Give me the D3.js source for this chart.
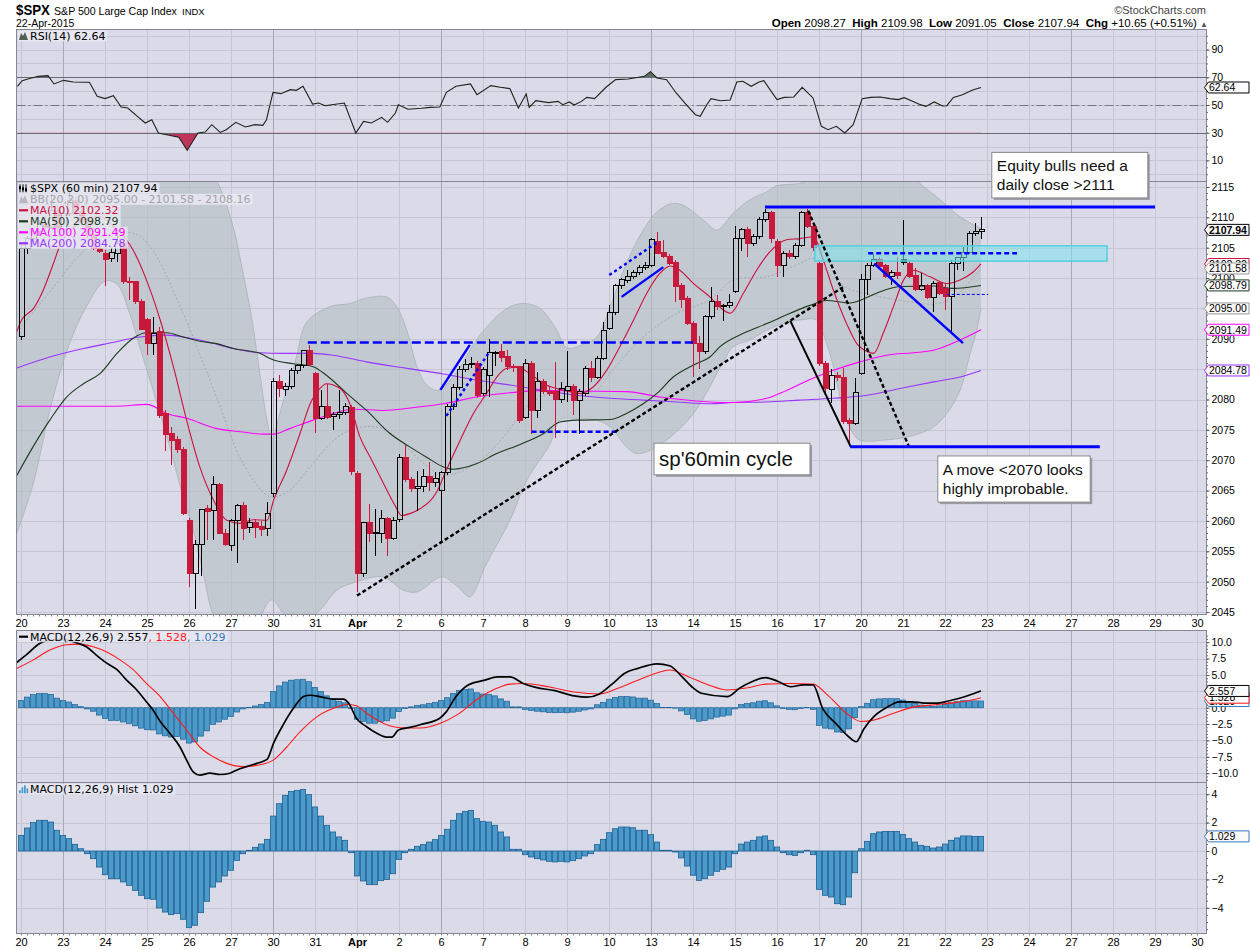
<!DOCTYPE html>
<html>
<head>
<meta charset="utf-8">
<title>$SPX 60 min</title>
<script src="https://cdn.jsdelivr.net/npm/d3@7/dist/d3.min.js"></script>
<style>
  body { margin: 0; background: #ffffff; }
  svg text { font-family: "Liberation Sans", Arial, sans-serif; }
  .leg { font-family: "DejaVu Sans", Verdana, sans-serif; font-size: 11px; }
</style>
</head>
<body>
<svg id="chart" width="1250" height="950"></svg>
<script>
// ---------------- data ----------------
// one label per trading day, 7 hourly bars per day
var dayLabels = ["20","23","24","25","26","27","30","31","Apr","2","6","7","8","9","10","13","14","15","16","17","20","21","22","23","24","27","28","29","30"];
var weekStarts = [1, 6, 10, 15, 20, 25];
var prevClose = 2089.27;

// hourly candles [open, high, low, close]
var ohlc = [
  // Mar 20
  [2090.3,2105.5,2089.8,2104.9],[2104.9,2107.0,2104.0,2106.5],[2106.5,2108.2,2105.8,2107.6],[2107.6,2109.6,2107.0,2109.0],[2109.0,2110.2,2107.9,2108.4],[2108.4,2113.9,2108.1,2111.2],[2111.2,2111.8,2107.6,2108.1],
  // Mar 23
  [2108.0,2112.0,2107.5,2110.6],[2110.6,2114.9,2110.2,2112.8],[2112.8,2113.4,2110.5,2111.0],[2111.0,2111.6,2108.8,2109.4],[2109.4,2110.0,2106.6,2107.1],[2107.1,2107.8,2104.6,2104.8],[2104.8,2105.6,2104.2,2104.4],
  // Mar 24
  [2104.1,2104.6,2098.7,2103.1],[2103.2,2104.9,2102.7,2104.2],[2104.1,2107.6,2102.7,2105.7],[2105.7,2106.0,2099.0,2099.4],[2099.5,2100.2,2096.4,2099.2],[2099.4,2099.6,2095.8,2096.1],[2096.2,2096.5,2091.4,2091.6],
  // Mar 25
  [2093.2,2093.5,2087.3,2089.3],[2089.3,2093.6,2087.3,2090.9],[2091.2,2092.0,2077.0,2077.4],[2077.7,2078.2,2071.5,2074.3],[2074.4,2075.5,2069.2,2073.3],[2073.4,2074.0,2071.2,2071.8],[2071.8,2072.2,2061.0,2061.2],
  // Mar 26
  [2060.1,2060.5,2049.1,2051.4],[2051.4,2056.9,2045.5,2056.1],[2056.1,2062.0,2050.9,2061.9],[2062.0,2062.6,2056.8,2061.6],[2061.7,2067.4,2056.8,2066.0],[2066.0,2066.3,2057.9,2058.0],[2058.0,2058.6,2055.8,2056.1],
  // Mar 27
  [2055.9,2060.4,2055.0,2060.0],[2060.0,2062.8,2053.0,2062.6],[2062.6,2063.1,2056.8,2058.7],[2058.9,2060.5,2058.0,2059.7],[2059.8,2060.3,2057.2,2059.0],[2059.1,2060.0,2057.5,2058.6],[2058.7,2063.1,2057.6,2061.2],
  // Mar 30
  [2064.5,2083.5,2064.0,2082.9],[2082.9,2084.0,2080.4,2081.8],[2081.6,2082.8,2080.6,2082.1],[2082.1,2085.2,2081.8,2084.8],[2084.8,2085.9,2084.2,2085.6],[2085.6,2088.2,2085.2,2088.0],[2088.0,2088.9,2085.6,2085.8],
  // Mar 31
  [2084.3,2084.6,2074.5,2076.9],[2076.9,2081.6,2076.7,2078.9],[2078.9,2082.6,2076.8,2077.0],[2077.2,2078.0,2075.0,2077.6],[2077.6,2081.5,2076.8,2077.9],[2077.9,2079.4,2077.4,2078.8],[2078.7,2079.1,2067.6,2068.1],
  // Apr 1
  [2067.8,2068.2,2048.3,2051.3],[2051.3,2059.9,2050.7,2059.8],[2059.8,2062.8,2056.6,2057.9],[2057.9,2061.9,2054.3,2058.1],[2057.9,2061.8,2056.3,2060.4],[2060.4,2060.7,2054.3,2057.1],[2057.1,2060.6,2056.9,2060.1],
  // Apr 2
  [2060.2,2071.0,2059.8,2070.5],[2070.5,2072.5,2066.4,2066.8],[2066.8,2067.2,2064.8,2065.3],[2065.3,2068.2,2061.7,2065.6],[2065.6,2068.5,2064.8,2067.3],[2067.3,2069.7,2064.9,2066.3],[2066.4,2068.0,2065.6,2067.0],
  // Apr 6
  [2065.0,2068.2,2056.5,2067.9],[2067.9,2079.2,2067.5,2078.8],[2078.8,2082.5,2078.2,2082.0],[2082.0,2085.5,2081.5,2085.0],[2085.0,2086.7,2084.6,2085.7],[2085.7,2087.0,2085.2,2086.0],[2085.9,2086.3,2080.3,2080.7],
  // Apr 7
  [2081.0,2085.4,2080.5,2084.9],[2084.0,2089.9,2080.4,2087.7],[2087.7,2088.0,2085.6,2087.8],[2087.9,2089.2,2086.2,2087.0],[2087.1,2088.1,2084.9,2085.4],[2085.4,2085.8,2084.6,2085.2],[2085.4,2085.6,2076.1,2076.5],
  // Apr 8
  [2077.1,2086.6,2076.8,2086.0],[2086.0,2086.4,2074.4,2078.2],[2078.2,2084.5,2076.9,2082.9],[2082.9,2083.3,2080.9,2081.3],[2081.3,2082.1,2080.6,2081.0],[2081.4,2086.2,2073.6,2080.0],[2080.0,2082.9,2079.5,2081.8],
  // Apr 9
  [2081.5,2088.0,2079.6,2082.1],[2082.1,2082.5,2077.5,2079.9],[2079.9,2081.8,2074.4,2081.4],[2081.0,2085.6,2080.5,2085.1],[2085.1,2086.3,2082.9,2083.7],[2083.7,2087.2,2083.3,2086.8],[2086.8,2092.8,2086.5,2091.4],
  // Apr 10
  [2091.7,2095.5,2091.4,2094.4],[2094.4,2099.1,2094.0,2098.8],[2098.8,2100.0,2098.2,2099.7],[2099.6,2101.4,2099.2,2100.2],[2100.2,2101.4,2099.8,2100.9],[2100.9,2102.2,2100.5,2101.8],[2101.8,2102.6,2101.3,2102.1],
  // Apr 13
  [2102.1,2106.6,2101.8,2106.3],[2106.1,2107.6,2103.9,2104.1],[2104.2,2106.3,2103.3,2103.5],[2103.6,2104.0,2102.2,2102.4],[2102.5,2102.9,2096.1,2098.6],[2098.7,2099.2,2095.0,2096.5],[2096.6,2097.0,2092.3,2092.5],
  // Apr 14
  [2092.5,2093.0,2083.7,2089.2],[2089.2,2090.4,2085.0,2087.9],[2087.9,2093.9,2087.5,2093.7],[2093.7,2098.6,2093.3,2096.1],[2096.1,2097.2,2094.8,2095.3],[2095.3,2095.8,2093.0,2095.5],[2095.5,2097.4,2095.0,2095.9],
  // Apr 15
  [2097.8,2108.5,2097.6,2106.5],[2106.5,2108.3,2104.5,2108.0],[2108.0,2108.4,2103.4,2105.7],[2105.7,2107.2,2105.3,2106.8],[2106.8,2110.0,2106.5,2109.7],[2109.7,2111.3,2109.3,2110.8],[2110.8,2111.1,2105.8,2106.5],
  // Apr 16
  [2106.0,2106.4,2100.2,2102.0],[2102.0,2104.5,2100.1,2104.1],[2104.1,2104.6,2103.2,2103.6],[2103.6,2105.8,2103.2,2105.4],[2105.4,2111.1,2105.1,2110.8],[2110.8,2111.3,2108.2,2108.5],[2108.5,2108.8,2104.4,2105.0],
  // Apr 17
  [2102.4,2102.6,2085.6,2086.0],[2086.0,2086.4,2081.0,2081.8],[2081.7,2085.1,2079.4,2084.0],[2084.0,2084.6,2083.0,2083.6],[2083.6,2085.2,2076.0,2076.3],[2076.6,2077.0,2072.4,2076.0],[2076.0,2083.5,2075.8,2081.2],
  // Apr 20
  [2084.3,2100.7,2084.1,2099.8],[2099.8,2102.5,2097.2,2102.1],[2102.1,2103.9,2101.8,2103.0],[2103.0,2103.4,2101.5,2101.9],[2102.0,2102.3,2100.0,2100.3],[2100.3,2101.3,2098.8,2101.0],[2101.0,2103.4,2099.8,2100.4],
  // Apr 21
  [2103.0,2109.6,2102.2,2102.5],[2102.4,2103.0,2100.0,2100.2],[2100.5,2101.6,2097.8,2098.1],[2098.1,2100.9,2097.8,2098.8],[2098.7,2099.0,2096.5,2096.8],[2096.8,2099.5,2094.4,2099.1],[2099.3,2099.6,2097.2,2097.5],
  // Apr 22
  [2098.3,2099.2,2094.8,2096.9],[2097.0,2102.9,2091.1,2102.4],[2102.4,2103.5,2101.3,2103.4],[2103.4,2105.2,2101.1,2104.2],[2104.2,2107.8,2103.9,2107.4],[2107.4,2109.0,2107.0,2107.6],[2107.6,2110.0,2106.5,2107.94]
];

// overlays as [bar position, value]
var ma10 = [[-0.7,2091.2],[0.1,2093.1],[2.1,2095.0],[3.7,2098.0],[5.4,2102.4],[6.5,2105.4],[9,2108.5],[11.5,2110],[13.2,2110.1],[15.4,2108.5],[18.7,2104.6],[20.9,2099.7],[23.2,2093.1],[25.4,2085.4],[27.6,2076.6],[29.8,2068.9],[32.1,2063.4],[34.3,2060.1],[36.5,2059.6],[38.7,2060.2],[41,2060.1],[42.1,2063.4],[44.3,2068.4],[46.5,2074.4],[48.2,2079.3],[49.8,2081.8],[50.9,2082.6],[53.2,2081.8],[54.8,2079.3],[56.5,2073.8],[58.2,2070.5],[60.4,2066.2],[62.3,2062.6],[63.4,2060.9],[64.8,2061.2],[66.5,2062.0],[69.3,2064.8],[70.9,2068.4],[73.2,2073.3],[75.4,2077.7],[77.6,2081],[79.3,2083.7],[80.9,2085.1],[82.6,2085.3],[84.8,2084.3],[87.1,2082.6],[89.3,2081.8],[91.5,2081.3],[93.2,2081],[95.4,2082.1],[97.6,2084.8],[99.8,2088.7],[102.1,2093.1],[104.3,2097.5],[106.5,2100.8],[108.2,2102],[109.8,2101.3],[112.1,2099.1],[114.8,2096.9],[116.5,2095.2],[118.2,2094.2],[120.4,2097.5],[122.6,2101.3],[124.8,2104.3],[127.6,2106.3],[129.8,2106.5],[132.1,2106.8],[133.7,2103],[135.4,2098],[137.6,2092.5],[139.3,2089.2],[141,2087.9],[142.1,2087.6],[143.7,2090.9],[145.4,2095.3],[147.1,2099.7],[148.7,2101.3],[151.5,2100.2],[154.3,2099.1],[156.5,2099.7],[158.7,2101],[160,2102.32]];
var ma50 = [[-0.7,2067.5],[2,2072.2],[4.8,2076.6],[7.6,2080.4],[10.4,2082.6],[13.2,2084.3],[16,2087.6],[18.7,2090.1],[20.9,2091],[24.3,2091],[27,2090.3],[29.8,2089.6],[32.6,2089.2],[35.4,2088.4],[39.8,2087.6],[42.1,2086.5],[45.4,2085.9],[48.7,2085.4],[50.9,2084],[54.3,2081],[57.6,2078.2],[61.5,2074.4],[64.8,2072.2],[67.6,2070.5],[70.4,2068.9],[72,2068.5],[75.9,2069.4],[79.3,2071.1],[83.2,2072.6],[87.1,2074.4],[89.8,2076.3],[92.6,2076.6],[98.2,2076.7],[100.9,2077.7],[103.7,2079.3],[106,2081],[108.7,2083.7],[112.1,2085.7],[114.8,2087],[116.5,2088.7],[120.4,2090.9],[124.3,2092.5],[128.2,2094.2],[131.5,2095.5],[134.3,2096.3],[138.2,2095.9],[139.8,2096.3],[142.6,2097.5],[146.5,2098.6],[152.1,2098.7],[155.4,2098.3],[160,2098.79]];
var ma100 = [[-0.7,2078.9],[16,2078.9],[21,2079.2],[24.3,2077.7],[27.6,2076.9],[32.6,2075.2],[36.5,2074.7],[40.4,2074.3],[42.1,2074.3],[44.8,2075.2],[48.7,2076.6],[52,2077.7],[55.4,2078.4],[60.4,2078.2],[66.5,2078.8],[70.4,2079.3],[75.9,2080.4],[81.5,2081.1],[87.1,2081.5],[92.6,2081.4],[100.9,2081.3],[106.5,2080.4],[114.8,2079.6],[118.7,2079.5],[124.3,2080.2],[127.6,2081.5],[131.5,2083.3],[135.4,2084.8],[139.8,2086.2],[144.3,2087.3],[148.7,2087.7],[152.1,2088.1],[156.5,2089.8],[160,2091.49]];
var ma200 = [[-0.7,2085.2],[4.8,2087],[10.4,2088.4],[14.8,2089.3],[19.8,2090.3],[24.3,2090.6],[27.6,2090.2],[31,2089.5],[35.4,2088.4],[39.8,2087.7],[43.7,2087.6],[48.7,2087.6],[52,2087.3],[57.6,2086.2],[63.2,2085.3],[66.5,2084.8],[70.4,2084.2],[75.9,2083.2],[81.5,2082.4],[87.1,2081.5],[92.6,2080.7],[98.2,2080.2],[103.7,2079.9],[109.3,2079.6],[114.8,2079.3],[118.7,2079.5],[124.3,2079.6],[129.8,2079.9],[135.4,2080.2],[141,2080.7],[146.5,2081.8],[152.1,2082.9],[156.5,2083.7],[160,2084.78]];
var bbUpper = [[-0.7,2124],[5,2120],[10,2117.5],[15,2116.5],[20,2118],[25,2121],[30,2119],[32.6,2116],[35.2,2109],[36.8,2101.9],[38.5,2093.1],[39.8,2084.3],[41,2076.6],[41.8,2073.5],[43.5,2079],[45.9,2087],[47.6,2092.7],[51.5,2095.3],[54.8,2095.8],[57.1,2096.6],[60.9,2096.9],[62.6,2095.3],[64.3,2091.4],[66,2085.4],[67.6,2082.4],[69.3,2081.5],[70.4,2082.0],[73.2,2085.4],[75.9,2089.8],[78.7,2093.1],[81.5,2095.3],[84,2095.8],[86.5,2095.0],[88.2,2093.1],[89.3,2091.4],[91,2088.5],[94,2089.2],[96,2090.3],[98.2,2095.3],[100.9,2102.4],[103.7,2107.9],[106,2110.9],[108.2,2112.2],[109.8,2112.2],[112.1,2110.9],[114,2109.3],[116,2107.9],[118.7,2110.7],[121.5,2112.9],[124.3,2114.2],[126,2115.2],[129.8,2115.6],[132,2116.5],[135,2120],[140,2124],[145,2120],[149.8,2115.6],[153.2,2112.9],[156.5,2110.1],[160,2108.16]];
var bbLower = [[-0.7,2058],[2,2066],[5,2079],[8,2089],[11,2095.5],[14,2099.5],[16,2099],[18,2094.5],[20,2088],[21.5,2083.2],[24.8,2072.2],[27,2064],[28.7,2058.5],[30.4,2051.3],[32,2044.7],[34,2042],[38,2041.5],[41.8,2047],[44,2044.5],[47,2043.5],[50,2045.5],[52.6,2048.6],[56,2050],[60.3,2050.8],[63.7,2048.6],[66,2048.3],[69.3,2050.5],[70.4,2050.8],[73,2049],[74.8,2047.5],[77.6,2053],[81.5,2060.1],[84.3,2066.7],[88.2,2072.7],[89.8,2076.6],[92.6,2076.9],[95.9,2076.6],[98.2,2075.5],[100.9,2072.2],[102.6,2071.1],[104.8,2071.6],[108.2,2073.8],[112.1,2077.7],[114.8,2082.1],[117.2,2086.5],[118.7,2088.7],[121.5,2089.8],[124.3,2091.4],[127,2092.5],[129.8,2093.1],[132.6,2093.1],[133.7,2090.9],[135.4,2085.4],[136.5,2080.4],[137.6,2076.6],[138.7,2074.4],[139.8,2073.3],[143.7,2073.3],[147.6,2073.8],[149.8,2074.4],[152.1,2075.5],[154.3,2077.7],[156.5,2081.5],[158.2,2087.6],[159.3,2091.4],[160,2095.0]];
var bbMid = [[-0.7,2091],[5,2098],[10,2104],[14,2107],[18.7,2107.4],[21.5,2105.2],[27,2094.2],[32.6,2080.4],[37,2069.5],[41.5,2064],[44.8,2065.1],[48.2,2068.9],[51.5,2072.7],[53.7,2074.4],[57,2075.5],[60.4,2075.2],[63.7,2072.7],[67.1,2069.5],[70.4,2067.5],[75.9,2069.5],[80.4,2073.8],[84.3,2078.8],[88.2,2081],[92.6,2081],[95.9,2081.5],[98.2,2084.3],[103.7,2090.3],[109.3,2094.2],[114.8,2096.4],[118.7,2099.7],[124.3,2100.2],[129.8,2102.4],[132,2103.2],[135.4,2100],[138,2098.2],[141,2097.4],[144.8,2096.6],[148.7,2096.0],[152,2095.7],[155.4,2096.8],[160,2101.58]];

var rsi = [[-0.6,63.5],[0.2,67.6],[1.3,69],[2.9,70.7],[4.5,71.2],[5.5,65.2],[7.1,67.8],[8.7,66.6],[10.3,66.4],[11.4,66.4],[12.7,56.3],[14,54.6],[15.4,56.7],[16.7,48.6],[17.8,47.8],[19.4,41.8],[20.7,37],[21.8,39.4],[22.9,29.8],[24.7,28.1],[26.3,26.7],[27.7,17.3],[29.5,29.8],[30.7,30.5],[31.8,35.8],[33.2,30.2],[34.2,32.2],[35.8,37.5],[37.4,34.1],[39,35.8],[40.3,35.3],[40.9,39.2],[42,59.1],[43.3,58.2],[44.9,61.1],[45.9,60.6],[47,63.5],[48.6,50.7],[49.6,51.4],[50.7,49.5],[51.8,50.2],[53.9,51.4],[55.8,29.8],[57.1,38.2],[58.4,37],[60.1,41.1],[61.1,37.5],[62.4,44.2],[62.9,50.2],[64.5,46.9],[66.7,47.6],[68.2,48.3],[69.8,48.6],[70.9,59.1],[72.5,63.5],[74.9,65.2],[76,57.5],[78.3,64],[79.9,62.8],[81.5,61.8],[82.9,47.8],[84.2,57.9],[84.7,48.3],[85.8,53.1],[87.9,51.7],[89.5,52.6],[90.3,50.2],[91.4,52.2],[92.2,50],[93.4,52.6],[94.3,55.5],[95.6,54.6],[97.5,62.8],[99.1,68.3],[101.2,68.8],[103.9,70.7],[104.9,74.1],[106,69.5],[107.6,68.3],[109.2,58.7],[110.8,50.7],[112.4,43],[113.2,41.8],[114.3,50.2],[115,54.6],[116.6,53.1],[118.2,53.6],[119.3,66.6],[120.3,67.1],[121.7,63.5],[123,66.6],[123.8,67.6],[126,53.9],[127.2,55.5],[128.8,55.8],[130.2,62.8],[132,55.1],[133.4,34.6],[134.5,32.2],[135.9,34.6],[137.3,29.8],[138.7,35.8],[140.2,54.6],[141.6,55.5],[143.2,55.8],[144.8,54.6],[146.2,53.9],[147.2,55.3],[148.5,52.9],[149.6,50.7],[150.8,49],[152.2,52.2],[153.6,49.3],[154.3,49.5],[155.4,55.5],[156.8,57.2],[158.6,60.8],[160,62.64]];

var macdLine = [[-0.7,6.9],[1.3,8.4],[2.9,9.7],[5,10.3],[7,10.4],[9.3,9.9],[10.9,9.3],[12.6,8.0],[14.3,6.8],[16,5.8],[17.6,4.2],[19.3,2.7],[20.9,0.9],[22,-0.35],[23.2,-2.1],[24.8,-3.9],[26.5,-6.0],[27.6,-8.0],[28.7,-9.8],[29.8,-10.3],[31.5,-10.0],[33.2,-10.2],[34.8,-10.0],[36,-9.5],[37.6,-9.0],[39.3,-8.5],[41,-7.9],[42.1,-5.4],[43.7,-2.6],[45.4,-0.1],[47.1,1.7],[48.2,1.9],[49.8,1.7],[52,1.3],[53.7,1.3],[54.6,0.7],[55.9,-1.6],[57.6,-2.9],[59.3,-3.9],[60.9,-4.5],[61.8,-4.5],[62.9,-3.4],[64.8,-3.0],[66.5,-2.6],[69.8,-1.6],[70.9,-0.6],[72.5,1.7],[74.6,3.5],[77.3,4.2],[79.4,4.7],[81.5,4.7],[83.7,3.7],[85.8,3.1],[89,2.6],[92.2,1.8],[94.3,1.6],[96.4,2.1],[98.5,3.6],[100.7,5.3],[102.8,6.0],[106,6.7],[108.1,6.4],[110.2,4.7],[111.8,3.2],[113.4,2.2],[117.7,1.7],[119.8,3.0],[121.9,4.0],[124.1,4.6],[126.2,4.0],[128.3,3.2],[130.4,3.5],[132,3.5],[133.6,-0.1],[135.8,-2.4],[137.9,-4.4],[139.2,-5.2],[140.5,-3.2],[142.1,-1.4],[144.3,0.05],[146.4,0.9],[148.5,0.9],[150.6,0.7],[152.8,0.7],[154.9,1.1],[157,1.6],[158.6,2.1],[160,2.557]];
var macdSignal = [[-0.7,6.0],[2.05,7.3],[4.8,8.8],[7.6,9.6],[9.8,9.7],[12.05,9.3],[14.3,8.5],[16.5,7.3],[18.7,5.8],[20.9,3.7],[23.2,1.7],[25.4,-0.85],[27.6,-3.4],[29.8,-6.0],[32.05,-7.5],[34.3,-8.5],[37.05,-9.0],[40.4,-8.6],[42.05,-8.0],[44.3,-6.0],[46.5,-3.7],[49.3,-1.4],[52.05,-0.1],[54.3,0.5],[55.9,0.3],[57.6,-0.85],[59.8,-2.1],[62.05,-2.9],[64.3,-3.1],[66.5,-3.1],[69.8,-2.4],[73,-0.9],[76.2,1.4],[79.4,3.0],[81.5,3.6],[83.7,3.7],[87.9,3.2],[92.2,2.4],[96.4,2.1],[99.6,3.0],[102.8,4.2],[106,5.3],[108.1,5.75],[111.3,4.7],[114.5,3.5],[117.7,2.7],[120.9,3.0],[124.1,3.6],[128.3,3.7],[132,3.6],[134.7,1.7],[137.9,-1.1],[140,-2.1],[142.1,-1.9],[145.3,-0.9],[148.5,0.05],[151.7,0.4],[154.9,0.7],[158.1,1.1],[160,1.528]];
// histogram, one value per bar
var macdHist = [
  1.10,1.62,2.00,2.16,2.16,2.04,1.46,
  1.10,0.87,0.47,0.16,-0.19,-0.54,-1.13,
  -1.67,-1.95,-1.95,-2.18,-2.42,-2.77,-3.12,
  -3.36,-3.40,-4.01,-4.30,-4.48,-4.41,-4.81,
  -5.40,-5.23,-4.34,-3.54,-2.54,-2.18,-1.76,
  -1.36,-0.66,-0.19,0.05,0.26,0.49,0.82,
  2.46,3.33,3.92,4.20,4.27,4.34,3.97,
  3.10,2.46,1.81,1.34,0.99,0.75,-0.12,
  -1.76,-2.11,-2.37,-2.37,-2.09,-2.00,-1.60,
  -0.59,-0.12,0.12,0.33,0.45,0.63,0.80,
  1.10,1.53,2.16,2.63,2.79,2.86,2.28,
  2.09,2.04,1.81,1.34,0.99,0.12,0.12,
  -0.26,-0.42,-0.54,-0.63,-0.73,-0.77,-0.73,
  -0.77,-0.68,-0.54,-0.35,-0.19,0.45,0.82,
  1.29,1.57,1.69,1.69,1.64,1.46,1.46,
  1.15,0.63,0.05,0.05,-0.07,-0.49,-1.06,
  -1.71,-2.07,-1.95,-1.71,-1.43,-1.29,-1.13,
  -0.19,0.49,0.63,0.75,0.99,1.06,0.75,
  0.28,-0.12,-0.26,-0.31,-0.12,0.05,-0.26,
  -2.70,-3.12,-3.24,-3.71,-3.78,-3.24,-1.53,
  0.16,0.68,1.22,1.34,1.38,1.38,1.38,
  1.17,0.87,0.63,0.40,0.33,0.21,0.28,
  0.49,0.75,0.92,1.06,1.06,1.03,1.029
];

// hand-drawn annotations, in [bar, price] terms
var drawnLines = [
  {kind:'blueDash',  pts:[[47.8,2089.4],[112,2089.4]]},
  {kind:'blue',      pts:[[69.9,2081.6],[74.8,2089.0]]},
  {kind:'blueDot',   pts:[[70.9,2077.3],[77.9,2087.6]]},
  {kind:'blueShort', pts:[[85.1,2074.7],[99.6,2074.7]]},
  {kind:'blueDot',   pts:[[98.05,2100.5],[106.2,2106]]},
  {kind:'blue',      pts:[[100.1,2096.9],[107.05,2101.8]]},
  {kind:'blackDash', pts:[[56,2047.7],[137,2098.5]]},
  {kind:'blackDash', pts:[[131.2,2111.1],[148,2072.2]]},
  {kind:'black',     pts:[[128.2,2093],[138.3,2072.2]]},
  {kind:'blueThick', pts:[[124,2111.7],[189,2111.7]]},
  {kind:'blueThick', pts:[[138.2,2072.2],[179.8,2072.2]]},
  {kind:'blueShort', pts:[[141.2,2104.1],[166,2104.1]]},
  {kind:'blue',      pts:[[142.2,2102.4],[157,2089.3]]},
  {kind:'blueThin',  pts:[[154.3,2097.3],[161.2,2097.3]]}
];
var zone = {b0:132.3, b1:181, p0:2105.3, p1:2102.8};
var notes = [
  {b0:161.8, b1:187.8, p0:2120.7, p1:2113.2, size:15.5, lines:["Equity bulls need a","daily close >2111"]},
  {b0:105.5, b1:131.5, p0:2072.8, p1:2067.6, size:20.5, lines:["sp'60min cycle"]},
  {b0:152.8, b1:178.2, p0:2070.7, p1:2063.1, size:15.5, lines:["A move <2070 looks","highly improbable."]}
];

// ---------------- chart ----------------
var svg = d3.select('#chart');
var plotLeft = 16.5, plotRight = 1206.5;
var pRsi = {top: 29.5, bottom: 181.5, id: 'cRsi'};
var pMain = {top: 181.5, bottom: 614.5, id: 'cMain'};
var pMacd = {top: 630.5, bottom: 782.5, id: 'cMacd'};
var pHist = {top: 782.5, bottom: 933.5, id: 'cHist'};

var x = d3.scaleLinear().domain([-0.75, 197.583]).range([plotLeft, plotRight]);
var yMain = d3.scaleLinear().domain([2045, 2115]).range([612, 187]);
var yRsi = d3.scaleLinear().domain([10, 90]).range([160.4, 49.6]);
var yMacd = d3.scaleLinear().domain([-10, 10]).range([773.2, 642.2]);
var yHist = d3.scaleLinear().domain([-4, 4]).range([907.8, 794.2]);

var bgCol = '#dadae8', gridCol = '#c5c5d6', weekCol = '#a8a8bb', frameCol = '#868696';
var redCol = '#c8183c', histFill = '#4a9bcb', histStroke = '#1f6294';
var dayTicks = dayLabels.map(function (d, i) { return 7 * i; });
var sharp = function (v) { return Math.round(v) + 0.5; };

var defs = svg.append('defs');

function drawPanel(p, yScale, hVals) {
  svg.append('rect').attr('x', plotLeft).attr('y', p.top)
    .attr('width', plotRight - plotLeft).attr('height', p.bottom - p.top).attr('fill', bgCol);
  defs.append('clipPath').attr('id', p.id).append('rect')
    .attr('x', plotLeft).attr('y', p.top).attr('width', plotRight - plotLeft).attr('height', p.bottom - p.top);
  var g = svg.append('g');
  g.append('g').selectAll('line').data(hVals).join('line')
    .attr('x1', plotLeft).attr('x2', plotRight)
    .attr('y1', function (d) { return sharp(yScale(d)); }).attr('y2', function (d) { return sharp(yScale(d)); })
    .attr('stroke', gridCol);
  g.append('g').selectAll('line').data(dayTicks).join('line')
    .attr('x1', function (d) { return sharp(x(d)); }).attr('x2', function (d) { return sharp(x(d)); })
    .attr('y1', p.top).attr('y2', p.bottom)
    .attr('stroke', function (d, i) { return weekStarts.indexOf(i) >= 0 ? weekCol : gridCol; });
}
function frame(p) {
  svg.append('rect').attr('x', plotLeft).attr('y', p.top)
    .attr('width', plotRight - plotLeft).attr('height', p.bottom - p.top)
    .attr('fill', 'none').attr('stroke', frameCol);
}

drawPanel(pRsi, yRsi, d3.range(0, 101, 10));
drawPanel(pMain, yMain, d3.range(2045, 2116, 5));
drawPanel(pMacd, yMacd, d3.range(-10, 10.1, 2.5));
drawPanel(pHist, yHist, [-4, -2, 0, 2, 4]);

// ---- RSI ----
var gR = svg.append('g').attr('clip-path', 'url(#cRsi)');
defs.append('clipPath').attr('id', 'rsiHi').append('rect')
  .attr('x', plotLeft).attr('y', pRsi.top).attr('width', plotRight - plotLeft).attr('height', yRsi(70) - pRsi.top);
defs.append('clipPath').attr('id', 'rsiLo').append('rect')
  .attr('x', plotLeft).attr('y', yRsi(30)).attr('width', plotRight - plotLeft).attr('height', pRsi.bottom - yRsi(30));
var rsiX = function (d) { return x(d[0]); }, rsiY = function (d) { return yRsi(d[1]); };
gR.append('path').datum(rsi).attr('clip-path', 'url(#rsiHi)').attr('fill', '#5f6e62')
  .attr('d', d3.area().x(rsiX).y0(yRsi(70)).y1(rsiY));
gR.append('path').datum(rsi).attr('clip-path', 'url(#rsiLo)').attr('fill', '#bd3559')
  .attr('d', d3.area().x(rsiX).y0(yRsi(30)).y1(rsiY));
[70, 30].forEach(function (v) {
  gR.append('line').attr('x1', plotLeft).attr('x2', plotRight)
    .attr('y1', sharp(yRsi(v))).attr('y2', sharp(yRsi(v))).attr('stroke', '#6a6a72');
});
gR.append('line').attr('x1', plotLeft).attr('x2', plotRight)
  .attr('y1', sharp(yRsi(50))).attr('y2', sharp(yRsi(50)))
  .attr('stroke', '#77777f').attr('stroke-dasharray', '9,3,2,3');
gR.append('path').datum(rsi).attr('fill', 'none').attr('stroke', '#1c241c').attr('stroke-width', 1.1)
  .attr('d', d3.line().x(rsiX).y(rsiY));

// ---- main price panel ----
var gM = svg.append('g').attr('clip-path', 'url(#cMain)');
var bandLine = d3.line().x(function (d) { return x(d[0]); }).y(function (d) { return yMain(d[1]); })
  .curve(d3.curveCatmullRom.alpha(0.5));
var upperD = bandLine(bbUpper);
var lowerRevD = bandLine(bbLower.slice().reverse());
gM.append('path').attr('d', upperD + 'L' + lowerRevD.slice(1) + 'Z')
  .attr('fill', '#b2bebf').attr('fill-opacity', 0.58);
gM.append('path').attr('d', upperD).attr('fill', 'none').attr('stroke', '#aab2b6').attr('stroke-width', 0.8);
gM.append('path').attr('d', bandLine(bbLower)).attr('fill', 'none').attr('stroke', '#aab2b6').attr('stroke-width', 0.8);
gM.append('path').attr('d', bandLine(bbMid)).attr('fill', 'none').attr('stroke', '#a6a8b4')
  .attr('stroke-width', 1).attr('stroke-dasharray', '2,2');

var maLine = d3.line().x(function (d) { return x(d[0]); }).y(function (d) { return yMain(d[1]); })
  .curve(d3.curveMonotoneX);
var maSeries = [
  {data: ma200, color: '#9933ff'},
  {data: ma100, color: '#ff00ff'},
  {data: ma50, color: '#1e3a1e'},
  {data: ma10, color: '#cc1040'}
];
maSeries.forEach(function (s) {
  gM.append('path').attr('d', maLine(s.data)).attr('fill', 'none')
    .attr('stroke', s.color).attr('stroke-width', 1.1);
});

// candles
var candles = ohlc.map(function (c, i) {
  var pc = i ? ohlc[i - 1][3] : prevClose;
  return {i: i, o: c[0], h: c[1], l: c[2], c: c[3],
    col: c[3] >= pc ? '#000' : redCol, filled: c[3] < c[0]};
});
var gCan = gM.append('g').attr('shape-rendering', 'crispEdges');
var cx = function (d) { return Math.round(x(d.i)) + 0.5; };
var bodyTop = function (d) { return yMain(Math.max(d.o, d.c)); };
var bodyBot = function (d) { return yMain(Math.min(d.o, d.c)); };
gCan.selectAll('line.hi').data(candles).join('line').attr('class', 'hi')
  .attr('x1', cx).attr('x2', cx).attr('y1', function (d) { return yMain(d.h); }).attr('y2', bodyTop)
  .attr('stroke', function (d) { return d.col; });
gCan.selectAll('line.lo').data(candles).join('line').attr('class', 'lo')
  .attr('x1', cx).attr('x2', cx).attr('y1', bodyBot).attr('y2', function (d) { return yMain(d.l); })
  .attr('stroke', function (d) { return d.col; });
gCan.selectAll('rect').data(candles).join('rect')
  .attr('x', function (d) { return cx(d) - 2.5; }).attr('width', 5)
  .attr('y', bodyTop).attr('height', function (d) { return Math.max(bodyBot(d) - bodyTop(d), 1); })
  .attr('fill', function (d) { return d.filled ? d.col : 'none'; })
  .attr('stroke', function (d) { return d.col; });

// annotations
var lineStyles = {
  blue:      {c: '#0000ff', w: 2.4, dash: null},
  blueThick: {c: '#0000ff', w: 3, dash: null},
  blueDash:  {c: '#0000ff', w: 2.6, dash: '9,4'},
  blueShort: {c: '#0000ff', w: 2.4, dash: '5,3'},
  blueDot:   {c: '#0000ff', w: 2.4, dash: '3,3'},
  blueThin:  {c: '#0000ff', w: 1, dash: '3,2'},
  black:     {c: '#000000', w: 2, dash: null},
  blackDash: {c: '#000000', w: 2.4, dash: '4,2.5'}
};
gM.append('rect')
  .attr('x', x(zone.b0)).attr('width', x(zone.b1) - x(zone.b0))
  .attr('y', yMain(zone.p0)).attr('height', yMain(zone.p1) - yMain(zone.p0))
  .attr('fill', '#7fe3ee').attr('fill-opacity', 0.55).attr('stroke', '#52cfdc').attr('stroke-width', 1.5);
var segLine = d3.line().x(function (d) { return x(d[0]); }).y(function (d) { return yMain(d[1]); });
gM.selectAll('path.note').data(drawnLines).join('path').attr('class', 'note')
  .attr('d', function (d) { return segLine(d.pts); })
  .attr('fill', 'none')
  .attr('stroke', function (d) { return lineStyles[d.kind].c; })
  .attr('stroke-width', function (d) { return lineStyles[d.kind].w; })
  .attr('stroke-dasharray', function (d) { return lineStyles[d.kind].dash; });

// ---- MACD panel ----
var gMc = svg.append('g').attr('clip-path', 'url(#cMacd)');
gMc.selectAll('rect').data(macdHist).join('rect')
  .attr('x', function (d, i) { return x(i) - 2.6; }).attr('width', 5.2)
  .attr('y', function (d) { return Math.min(yMacd(d), yMacd(0)); })
  .attr('height', function (d) { return Math.abs(yMacd(d) - yMacd(0)); })
  .attr('fill', histFill).attr('stroke', histStroke).attr('stroke-width', 0.7);
var mLine = d3.line().x(function (d) { return x(d[0]); }).y(function (d) { return yMacd(d[1]); })
  .curve(d3.curveMonotoneX);
gMc.append('path').attr('d', mLine(macdSignal)).attr('fill', 'none').attr('stroke', '#ff1a1a').attr('stroke-width', 1.1);
gMc.append('path').attr('d', mLine(macdLine)).attr('fill', 'none').attr('stroke', '#000').attr('stroke-width', 1.7);

// ---- histogram panel ----
var gH = svg.append('g').attr('clip-path', 'url(#cHist)');
gH.selectAll('rect').data(macdHist).join('rect')
  .attr('x', function (d, i) { return x(i) - 2.6; }).attr('width', 5.2)
  .attr('y', function (d) { return Math.min(yHist(d), yHist(0)); })
  .attr('height', function (d) { return Math.abs(yHist(d) - yHist(0)); })
  .attr('fill', histFill).attr('stroke', histStroke).attr('stroke-width', 0.8);

[pRsi, pMain, pMacd, pHist].forEach(frame);

// ---- axes ----
// labels that sit under a value tag are left out, as on the original
function rightAxis(scale, vals, fmt, minorVals, hidden) {
  hidden = hidden || [];
  if (minorVals) {
    var gm = svg.append('g').attr('transform', 'translate(' + plotRight + ',0)')
      .call(d3.axisRight(scale).tickValues(minorVals).tickSize(1.5).tickFormat(''));
    gm.select('.domain').remove();
    gm.selectAll('line').attr('stroke', '#666');
  }
  var g = svg.append('g').attr('transform', 'translate(' + plotRight + ',0)')
    .call(d3.axisRight(scale).tickValues(vals).tickSize(3).tickPadding(2)
      .tickFormat(function (d) { return hidden.indexOf(d) >= 0 ? '' : fmt(d); }));
  g.select('.domain').remove();
  g.selectAll('line').attr('stroke', '#555');
  g.selectAll('text').attr('font-size', 10.5).attr('fill', '#000')
    .attr('font-family', '"Liberation Sans", Arial, sans-serif');
}
rightAxis(yRsi, [90, 70, 50, 30, 10], d3.format('d'), d3.range(0, 101, 5));
rightAxis(yMain, d3.range(2045, 2116, 5), d3.format('d'), d3.range(2045, 2116, 1), [2085, 2095]);
rightAxis(yMacd, d3.range(-10, 10.1, 2.5), d3.format('.1f'), d3.range(-11, 11.1, 0.5), [2.5]);
rightAxis(yHist, [-4, -2, 0, 2, 4], d3.format('d'), d3.range(-5.5, 4.6, 0.5));

function dayAxis(yPos) {
  var gm = svg.append('g').attr('transform', 'translate(0,' + yPos + ')')
    .call(d3.axisBottom(x).tickValues(d3.range(0, 197, 1)).tickSize(2).tickFormat(''));
  gm.select('.domain').remove();
  gm.selectAll('line').attr('stroke', '#888');
  var g = svg.append('g').attr('transform', 'translate(0,' + yPos + ')')
    .call(d3.axisBottom(x).tickValues(dayTicks).tickSize(0).tickPadding(4.5)
      .tickFormat(function (d, i) { return dayLabels[i]; }));
  g.select('.domain').remove();
  g.selectAll('text').attr('font-size', 11).attr('fill', '#000')
    .attr('font-family', '"Liberation Sans", Arial, sans-serif')
    .attr('font-weight', function (d, i) { return dayLabels[i] === 'Apr' ? 'bold' : null; });
}
dayAxis(pMain.bottom);
dayAxis(pHist.bottom);

// value tags on the right edge
function tag(yPix, label, color, bold) {
  var g = svg.append('g').attr('transform', 'translate(' + plotRight + ',' + yPix + ')');
  g.append('path').attr('d', 'M-2,0L2,-5.5L42.5,-5.5L42.5,5.5L2,5.5Z')
    .attr('fill', '#fbfbfd').attr('stroke', color).attr('stroke-width', 1);
  g.append('text').attr('x', 2.5).attr('dy', '0.36em').attr('font-size', 10.5)
    .attr('font-weight', bold ? 'bold' : null).attr('fill', '#000').text(label);
}
var last = function (arr) { return arr[arr.length - 1][1]; };
tag(yRsi(last(rsi)), d3.format('.2f')(last(rsi)), '#000', false);
tag(yMain(last(ma10)), d3.format('.2f')(last(ma10)), '#cc1040', false);
tag(yMain(last(bbMid)), d3.format('.2f')(last(bbMid)), '#999', false);
tag(yMain(last(ma50)), d3.format('.2f')(last(ma50)), '#1e3a1e', false);
tag(yMain(last(bbLower)), d3.format('.2f')(last(bbLower)), '#999', false);
tag(yMain(last(ma100)), d3.format('.2f')(last(ma100)), '#ff00ff', false);
tag(yMain(last(ma200)), d3.format('.2f')(last(ma200)), '#9933ff', false);
tag(yMain(ohlc[ohlc.length - 1][3]), d3.format('.2f')(ohlc[ohlc.length - 1][3]), '#000', true);
var histLast = macdHist[macdHist.length - 1];
tag(yMacd(histLast), d3.format('.3f')(histLast), '#3a78b8', false);
tag(yMacd(last(macdSignal)), d3.format('.3f')(last(macdSignal)), '#ff1a1a', false);
tag(yMacd(last(macdLine)), d3.format('.3f')(last(macdLine)), '#000', false);
tag(yHist(histLast), d3.format('.3f')(histLast), '#3a78b8', false);

// ---- legends ----
function legendRow(yc, parts, icon, iconColor) {
  var g = svg.append('g');
  var bgRect = g.append('rect').attr('fill', '#e9e9f2').attr('fill-opacity', 0.85);
  var t = g.append('text').attr('class', 'leg').attr('x', 30).attr('y', yc).attr('dy', '0.36em');
  parts.forEach(function (p) { t.append('tspan').attr('fill', p[1]).text(p[0]); });
  var w = t.node().getComputedTextLength();
  bgRect.attr('x', 18).attr('y', yc - 5.5).attr('width', w + 14).attr('height', 11);
  if (icon === 'dash') {
    g.append('line').attr('x1', 19).attr('x2', 28).attr('y1', yc).attr('y2', yc)
      .attr('stroke', iconColor).attr('stroke-width', 2.2);
  } else if (icon === 'mount') {
    g.append('path').attr('d', 'M19,' + (yc + 4) + 'L21,' + (yc - 3) + 'L23,' + (yc) + 'L25,' + (yc - 4) + 'L28,' + (yc + 4) + 'Z')
      .attr('fill', iconColor);
  } else if (icon === 'candle') {
    [20, 23, 26].forEach(function (xx, k) {
      g.append('line').attr('x1', xx).attr('x2', xx).attr('y1', yc - 4).attr('y2', yc + 4).attr('stroke', '#000');
      g.append('rect').attr('x', xx - 1).attr('y', yc - 2 + k).attr('width', 2).attr('height', 3).attr('fill', '#000');
    });
  } else if (icon === 'bars') {
    [[19, 3], [21.5, 6], [24, 8], [26.5, 5]].forEach(function (b) {
      g.append('rect').attr('x', b[0]).attr('y', yc + 4 - b[1]).attr('width', 1.8).attr('height', b[1]).attr('fill', histFill);
    });
  }
}
legendRow(36, [['RSI(14) 62.64', '#000']], 'mount', '#4f5f52');
legendRow(188.3, [['$SPX (60 min) 2107.94', '#000']], 'candle');
legendRow(199.3, [['BB(20,2.0) 2095.00 - 2101.58 - 2108.16', '#a2a2a8']], 'mount', '#b6b6bc');
legendRow(210.3, [['MA(10) 2102.32', '#cc1040']], 'dash', '#cc1040');
legendRow(221.3, [['MA(50) 2098.79', '#1e3a1e']], 'dash', '#1e3a1e');
legendRow(232.3, [['MA(100) 2091.49', '#ff00ff']], 'dash', '#ff00ff');
legendRow(243.3, [['MA(200) 2084.78', '#9933ff']], 'dash', '#9933ff');
legendRow(636.7, [['MACD(12,26,9) 2.557', '#000'], [', 1.528', '#ff1a1a'], [', 1.029', '#3a78b8']], 'dash', '#000');
legendRow(789.3, [['MACD(12,26,9) Hist 1.029', '#000']], 'bars');

// ---- note boxes ----
notes.forEach(function (n) {
  var x0 = x(n.b0), x1 = x(n.b1), y0 = yMain(n.p0), y1 = yMain(n.p1);
  svg.append('rect').attr('x', x0 + 2).attr('y', y0 + 2).attr('width', x1 - x0).attr('height', y1 - y0)
    .attr('fill', '#9a9aa6');
  svg.append('rect').attr('x', x0).attr('y', y0).attr('width', x1 - x0).attr('height', y1 - y0)
    .attr('fill', '#fff').attr('stroke', '#8a8a8a');
  var lh = n.size * 1.25;
  var top = (y0 + y1) / 2 - lh * (n.lines.length - 1) / 2;
  n.lines.forEach(function (ln, k) {
    svg.append('text').attr('x', x0 + 5).attr('y', top + k * lh).attr('dy', '0.36em')
      .attr('font-size', n.size).attr('fill', '#111').text(ln);
  });
});

// ---- header ----
svg.append('text').attr('x', 16).attr('y', 15).attr('font-size', 14.5).attr('font-weight', 'bold')
  .attr('textLength', 34).attr('lengthAdjust', 'spacingAndGlyphs').text('$SPX');
svg.append('text').attr('x', 54).attr('y', 14.5).attr('font-size', 10.6).text('S&P 500 Large Cap Index');
svg.append('text').attr('x', 182).attr('y', 14.5).attr('font-size', 9.5).text('INDX');
svg.append('text').attr('x', 16).attr('y', 26.5).attr('font-size', 10.5).text('22-Apr-2015');
svg.append('text').attr('x', 1206).attr('y', 14).attr('text-anchor', 'end').attr('font-size', 11)
  .attr('fill', '#444').text('\u00A9StockCharts.com');
var ohlcLine = svg.append('text').attr('x', 1208).attr('y', 27).attr('text-anchor', 'end').attr('font-size', 11.5);
[['Open ', true], ['2098.27  ', false], ['High ', true], ['2109.98  ', false], ['Low ', true], ['2091.05  ', false],
 ['Close ', true], ['2107.94  ', false], ['Chg ', true], ['+10.65 (+0.51%) ', false]].forEach(function (p) {
  ohlcLine.append('tspan').attr('font-weight', p[1] ? 'bold' : null).attr('xml:space', 'preserve').text(p[0]);
});
ohlcLine.append('tspan').attr('font-size', 8).attr('fill', '#555').text('\u25B2');
</script>
</body>
</html>
